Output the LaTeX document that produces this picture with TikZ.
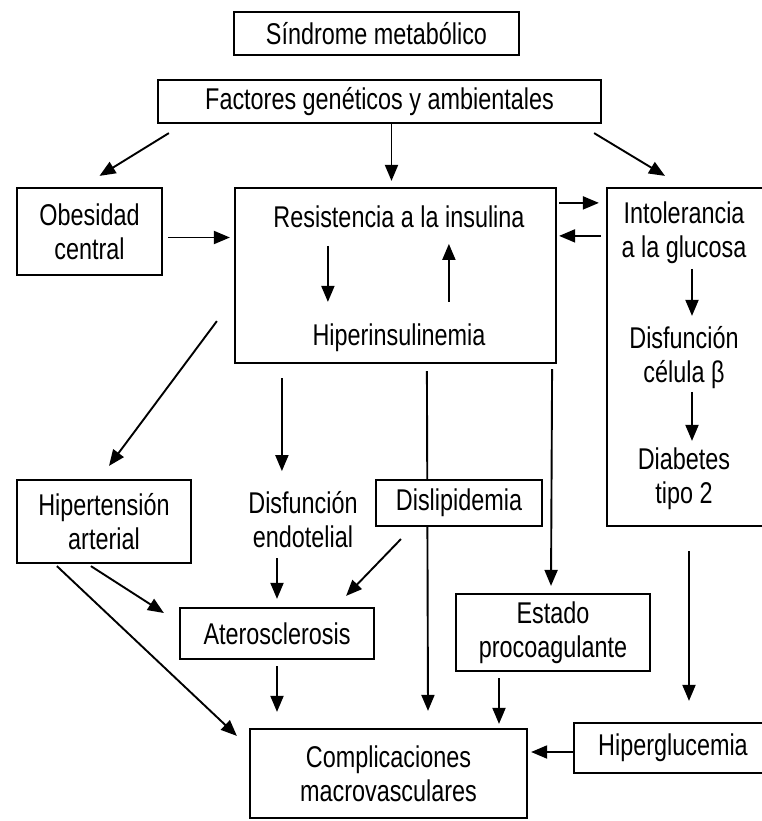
\documentclass[tikz,border=0pt]{standalone}
\usepackage{fontspec}
\setmainfont{Liberation Sans}[FakeStretch=0.78]
\usetikzlibrary{arrows.meta}

\newcommand\flowfont{\fontsize{30}{34}\selectfont}

\begin{document}
\begin{tikzpicture}[x=1pt,y=-1pt,
  box/.style={draw,line width=2.2pt,fill=white,inner sep=0pt,align=center,font=\flowfont},
  lbl/.style={inner sep=0pt,align=center,font=\flowfont},
  arr/.style={line width=1.9pt,-{Triangle[length=16pt,width=13pt]}}]

\useasboundingbox (0,0) rectangle (762,821);
\clip (0,0) rectangle (762,821);

%% boxes
\node[box,minimum width=285pt,minimum height=43pt] (sind) at (376.5,33.5) {Síndrome metabólico};
\node[box,minimum width=443pt,minimum height=43pt] (fac) at (379.5,101.5) {Factores genéticos y ambientales};
\node[box,minimum width=145pt,minimum height=87pt] (obe) at (89.5,231.5) {Obesidad\\central};
\node[box,minimum width=321pt,minimum height=175pt] (res) at (395.5,275.5) {};
\node[lbl] (resin) at (399,217) {Resistencia a la insulina};
\node[lbl] (hipin) at (399,338) {Hiperinsulinemia};
\node[box,minimum width=160pt,minimum height=338pt] (int) at (687,357) {};
\node[lbl] (intol) at (684,233) {Intolerancia\\a la glucosa};
\node[lbl] (disbeta) at (684,358) {Disfunción\\célula β};
\node[lbl] (diab) at (684,479) {Diabetes\\tipo 2};
\node[box,minimum width=174pt,minimum height=83pt] (hip) at (104,521.5) {Hipertensión\\arterial};
\node[lbl] (disf) at (303,520) {Disfunción\\endotelial};
\node[box,minimum width=194pt,minimum height=51pt] (ate) at (277,633.5) {Aterosclerosis};
\node[box,minimum width=194pt,minimum height=77pt] (est) at (553,632.5) {Estado\\procoagulante};
\node[box,minimum width=277pt,minimum height=89pt] (comp) at (388.5,773.5) {Complicaciones\\macrovasculares};
\node[box,minimum width=198pt,minimum height=50pt] (hgl) at (673,748) {Hiperglucemia};

%% arrows
\draw[arr] ([xshift=12pt,yshift=-9pt]fac.south west) -- ([xshift=10pt,yshift=11pt]obe.north);
\draw[arr] ([xshift=12pt]fac.south) -- ([xshift=-4pt,yshift=6pt]res.north);
\draw[arr] ([xshift=-8pt,yshift=-9pt]fac.south east) -- ([xshift=-22pt,yshift=11pt]int.north);
\draw[arr] ([xshift=5pt,yshift=-6pt]obe.east) -- ([xshift=-4pt,yshift=-6pt]obe.east -| res.west);
\draw[arr] ([xshift=2pt,yshift=-16pt]res.north east) -- ([xshift=-7pt,yshift=-16pt]int.north west);
\draw[arr] ([xshift=-5pt,yshift=-49pt]int.north west) -- ([xshift=2pt,yshift=-49pt]res.north east);
\draw[arr] ([xshift=94pt,yshift=-59pt]res.north west) -- ([xshift=94pt,yshift=-115pt]res.north west);
\draw[arr] ([xshift=215pt,yshift=-115pt]res.north west) -- ([xshift=215pt,yshift=-57pt]res.north west);
\draw[arr] ([xshift=5pt,yshift=-82pt]int.north) -- ([xshift=5pt,yshift=-129pt]int.north);
\draw[arr] ([xshift=5pt,yshift=-205pt]int.north) -- ([xshift=5pt,yshift=-254pt]int.north);
\draw[arr] ([xshift=-17pt,yshift=43pt]res.south west) -- ([xshift=5pt,yshift=13pt]hip.north);
\draw[arr] ([xshift=48pt,yshift=-14pt]res.south west) -- ([xshift=48pt,yshift=-107pt]res.south west);
\draw[arr] ([xshift=193pt,yshift=-7pt]res.south west) -- ([xshift=39.5pt,yshift=17pt]comp.north);
\draw[arr] ([xshift=-5pt,yshift=-5pt]res.south east) -- ([xshift=-2pt,yshift=7pt]est.north);

\node[box,minimum width=166pt,minimum height=46pt] (dis) at (459,503) {Dislipidemia};

\draw[arr] ([xshift=26pt,yshift=-12pt]dis.south west) -- ([xshift=-29pt,yshift=11pt]ate.north east);
\draw[arr] ([xshift=-26pt,yshift=-38pt]disf.center) -- ([yshift=8pt]ate.north);
\draw[arr] ([xshift=75pt,yshift=-2pt]hip.south west) -- ([xshift=-15pt,yshift=20.5pt]ate.west);
\draw[arr] ([xshift=41pt,yshift=-2pt]hip.south west) -- ([xshift=-12pt,yshift=-8pt]comp.north west);
\draw[arr] ([yshift=-6pt]ate.south) -- ([xshift=-111.5pt,yshift=16pt]comp.north);
\draw[arr] ([xshift=-54pt,yshift=-6pt]est.south) -- ([xshift=110.5pt,yshift=4pt]comp.north);
\draw[arr] ([xshift=2pt,yshift=-24pt]int.south) -- ([xshift=16pt,yshift=21pt]hgl.north);
\draw[arr] ([yshift=-4pt]hgl.west) -- ([xshift=3pt,yshift=-4pt]hgl.west -| comp.east);

\end{tikzpicture}
\end{document}
